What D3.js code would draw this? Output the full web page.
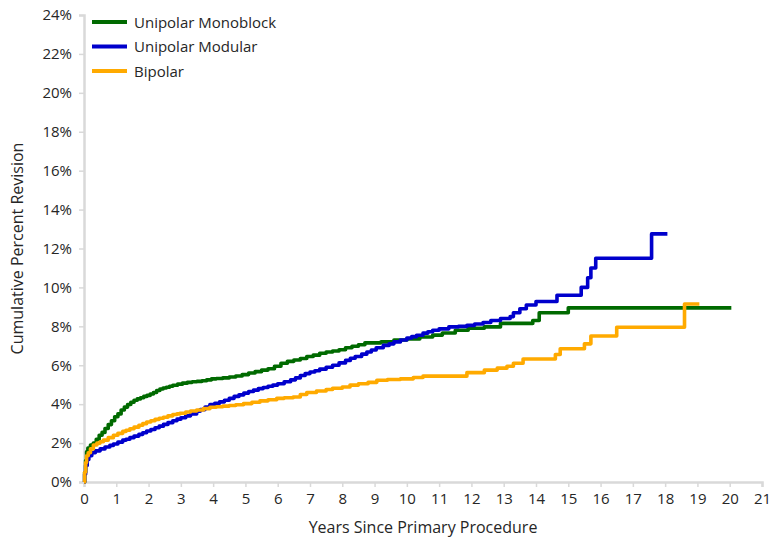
<!DOCTYPE html>
<html><head><meta charset="utf-8">
<script src="https://cdn.jsdelivr.net/npm/d3@7"></script>
<style>body{margin:0;background:#fff;}text{font-family:"Open Sans",sans-serif;fill:#262626;}</style>
</head><body><svg id="c" width="771" height="545"></svg>
<script>
const seriesNames = ["Unipolar Monoblock", "Unipolar Modular", "Bipolar"];
const seriesColors = ["#006a00", "#0000cc", "#ffaa00"];
const xTicks = d3.range(0, 22, 1);
const yTicks = d3.range(0, 25, 2);
const monoblock = [[0,0],[0.02,0.5],[0.05,1.1],[0.08,1.55],[0.12,1.75],[0.2,1.9],[0.29,2.0],[0.38,2.2],[0.47,2.4],[0.56,2.55],[0.65,2.75],[0.75,2.95],[0.85,3.15],[0.95,3.35],[1.05,3.5],[1.15,3.7],[1.25,3.85],[1.35,3.98],[1.45,4.1],[1.55,4.2],[1.65,4.27],[1.75,4.33],[1.85,4.4],[1.95,4.45],[2.05,4.52],[2.15,4.6],[2.25,4.7],[2.35,4.78],[2.45,4.83],[2.55,4.87],[2.65,4.92],[2.75,4.97],[2.9,5.03],[3.05,5.08],[3.2,5.12],[3.35,5.15],[3.5,5.17],[3.65,5.2],[3.8,5.25],[3.95,5.3],[4.1,5.32],[4.3,5.35],[4.5,5.4],[4.7,5.45],[4.9,5.52],[5.1,5.6],[5.3,5.67],[5.5,5.75],[5.7,5.82],[5.9,5.95],[6.1,6.1],[6.3,6.2],[6.5,6.27],[6.7,6.35],[6.9,6.45],[7.1,6.52],[7.3,6.62],[7.5,6.68],[7.7,6.73],[7.9,6.8],[8.1,6.9],[8.3,6.98],[8.5,7.05],[8.7,7.15],[9.2,7.2],[9.6,7.3],[10.0,7.35],[10.4,7.45],[10.8,7.55],[11.1,7.66],[11.5,7.8],[11.9,7.9],[12.4,7.97],[12.9,8.15],[13.9,8.3],[14.1,8.7],[15.0,8.95],[20.05,8.95]];
const modular = [[0,0],[0.02,0.4],[0.05,0.85],[0.1,1.15],[0.15,1.35],[0.24,1.5],[0.35,1.6],[0.5,1.7],[0.65,1.8],[0.8,1.88],[0.91,1.95],[1.05,2.05],[1.2,2.15],[1.3,2.2],[1.42,2.28],[1.55,2.36],[1.7,2.45],[1.82,2.53],[1.94,2.62],[2.07,2.7],[2.2,2.79],[2.33,2.87],[2.46,2.96],[2.6,3.05],[2.75,3.15],[2.88,3.23],[3.0,3.3],[3.15,3.4],[3.3,3.5],[3.49,3.64],[3.6,3.72],[3.75,3.85],[3.9,3.98],[4.05,4.05],[4.2,4.12],[4.35,4.2],[4.5,4.3],[4.65,4.4],[4.8,4.48],[4.95,4.57],[5.1,4.65],[5.25,4.72],[5.4,4.8],[5.55,4.86],[5.7,4.92],[5.85,4.98],[6.0,5.05],[6.2,5.15],[6.4,5.25],[6.55,5.35],[6.7,5.47],[6.85,5.57],[7.0,5.65],[7.15,5.72],[7.3,5.8],[7.5,5.9],[7.7,6.0],[7.9,6.12],[8.1,6.25],[8.25,6.36],[8.4,6.45],[8.6,6.57],[8.76,6.68],[8.9,6.78],[9.05,6.9],[9.27,7.02],[9.45,7.1],[9.6,7.2],[9.8,7.3],[10.0,7.4],[10.15,7.47],[10.3,7.54],[10.5,7.65],[10.65,7.72],[10.8,7.8],[11.0,7.87],[11.3,7.97],[11.6,8.0],[11.86,8.05],[12.1,8.12],[12.36,8.2],[12.6,8.3],[12.9,8.4],[13.2,8.5],[13.3,8.7],[13.5,8.9],[13.7,9.1],[14.0,9.28],[14.65,9.6],[15.4,10.0],[15.6,10.5],[15.7,11.0],[15.85,11.5],[17.58,12.75],[18.07,12.75]];
const bipolar = [[0,0],[0.02,0.5],[0.05,1.0],[0.08,1.35],[0.13,1.5],[0.2,1.7],[0.29,1.9],[0.4,2.0],[0.5,2.07],[0.6,2.15],[0.75,2.28],[0.91,2.4],[1.05,2.5],[1.2,2.6],[1.3,2.66],[1.42,2.74],[1.55,2.82],[1.7,2.92],[1.82,3.0],[1.94,3.08],[2.07,3.15],[2.2,3.22],[2.33,3.28],[2.46,3.33],[2.6,3.4],[2.75,3.47],[2.88,3.5],[2.97,3.53],[3.15,3.6],[3.3,3.65],[3.49,3.7],[3.7,3.77],[3.9,3.84],[4.1,3.87],[4.3,3.9],[4.5,3.93],[4.7,3.97],[4.94,4.03],[5.2,4.1],[5.45,4.17],[5.7,4.23],[5.97,4.3],[6.2,4.33],[6.48,4.37],[6.7,4.5],[6.9,4.6],[7.2,4.68],[7.5,4.75],[7.7,4.82],[8.0,4.88],[8.24,4.98],[8.5,5.05],[8.8,5.12],[9.07,5.23],[9.4,5.27],[9.8,5.3],[10.2,5.37],[10.5,5.44],[11.86,5.62],[12.4,5.75],[12.8,5.85],[13.1,5.95],[13.3,6.1],[13.6,6.32],[14.6,6.55],[14.75,6.85],[15.5,7.1],[15.7,7.5],[16.5,7.95],[18.6,9.15],[19.06,9.15]];
const allSeries = [monoblock, modular, bipolar];

const W = 771, H = 545;
const m = {left: 84, right: 9, top: 15, bottom: 63};
const svg = d3.select("#c");
const x = d3.scaleLinear().domain([0, 21]).range([m.left, W - m.right]);
const y = d3.scaleLinear().domain([0, 24]).range([H - m.bottom, m.top]);

// axes
const xa = svg.append("g").attr("transform", `translate(0,${H - m.bottom})`)
  .call(d3.axisBottom(x).tickValues(xTicks).tickSize(5).tickPadding(6).tickFormat(d3.format("d")));
const ya = svg.append("g").attr("transform", `translate(${m.left},0)`)
  .call(d3.axisLeft(y).tickValues(yTicks).tickSize(5).tickPadding(7).tickFormat(d => d + "%"));
[xa, ya].forEach(g => {
  g.select(".domain").attr("stroke", "#d9d9d9").attr("stroke-width", 2.5);
  g.selectAll(".tick line").attr("stroke", "#d9d9d9").attr("stroke-width", 1.5);
  g.selectAll(".tick text").style("font-family", '"Open Sans",sans-serif').style("font-size", "15px").attr("fill", "#262626");
});

// lines
const line = d3.line().x(d => x(d[0])).y(d => y(d[1])).curve(d3.curveStepAfter);
allSeries.forEach((s, i) => {
  svg.append("path").datum(s).attr("d", line).attr("fill", "none")
    .attr("stroke", seriesColors[i]).attr("stroke-width", 3.6)
    .attr("stroke-linejoin", "round").attr("stroke-linecap", "butt");
});

// legend
const lg = svg.append("g");
seriesNames.forEach((n, i) => {
  const yy = 22 + i * 24.5;
  lg.append("line").attr("x1", 92).attr("x2", 127).attr("y1", yy).attr("y2", yy)
    .attr("stroke", seriesColors[i]).attr("stroke-width", 4);
  lg.append("text").attr("x", 134).attr("y", yy + 5.5).style("font-size", "15px").text(n);
});

// titles
svg.append("text").attr("x", 423).attr("y", 533)
  .attr("text-anchor", "middle").style("font-size", "16px").text("Years Since Primary Procedure");
svg.append("text").attr("transform", `translate(23,${(m.top + H - m.bottom) / 2}) rotate(-90)`)
  .attr("text-anchor", "middle").style("font-size", "16px").text("Cumulative Percent Revision");
</script></body></html>
